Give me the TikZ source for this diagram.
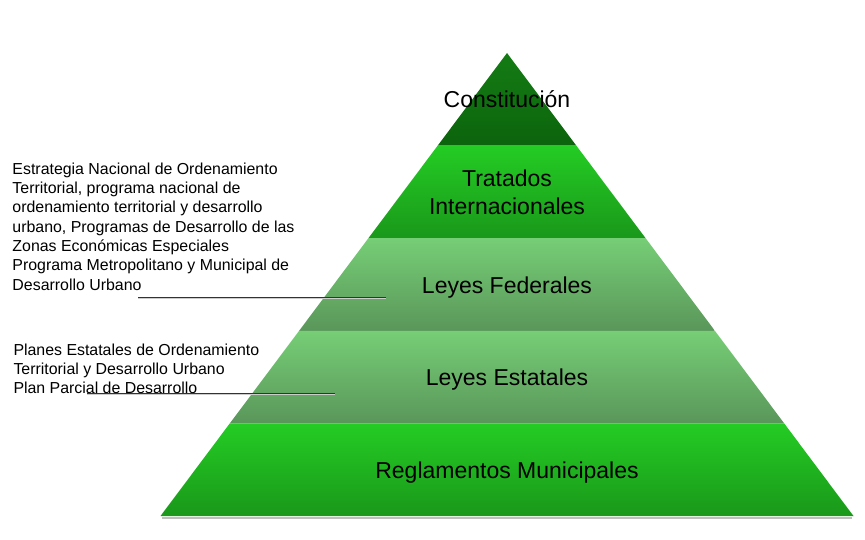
\documentclass[tikz,border=0pt]{standalone}
\usepackage{fontspec}
\setmainfont{Liberation Sans}

\definecolor{cimaA}{RGB}{20,124,20}
\definecolor{cimaB}{RGB}{12,100,12}
\definecolor{verdeA}{RGB}{36,204,36}
\definecolor{verdeB}{RGB}{26,152,26}
\definecolor{chiaroA}{RGB}{118,206,118}
\definecolor{chiaroB}{RGB}{90,150,90}

\begin{document}
\begin{tikzpicture}[x=1pt,y=-1pt,
    etichetta/.style={font=\fontsize{23}{28.5}\selectfont, align=center, inner sep=0pt},
    nota/.style={font=\fontsize{15.9}{19.3}\selectfont, align=left, inner sep=0pt, anchor=north west},
    linea/.style={draw=black!80, line width=0.9pt},
    ombra/.style={draw=black!20, line width=1.2pt}]

        \useasboundingbox (0,0) rectangle (865,540);

        % Livelli
        \draw[ombra, draw=black!25, line width=2pt] (162,517.5) -- (852,517.5); % ombra della base
        \path[top color=cimaA, bottom color=cimaB] (507,53) -- (576.3,145.6) -- (437.7,145.6) -- cycle;
        \path[top color=verdeA, bottom color=verdeB] (437.7,145.6) -- (576.3,145.6) -- (645.6,238.2) -- (368.4,238.2) -- cycle;
        \path[top color=chiaroA, bottom color=chiaroB] (368.4,238.2) -- (645.6,238.2) -- (714.9,330.8) -- (299.1,330.8) -- cycle;
        \path[top color=chiaroA, bottom color=chiaroB] (299.1,330.8) -- (714.9,330.8) -- (784.2,423.4) -- (229.8,423.4) -- cycle;
        \path[top color=verdeA, bottom color=verdeB] (229.8,423.4) -- (784.2,423.4) -- (853.5,516) -- (160.5,516) -- cycle;

        % Etichette
        \node[etichetta, anchor=base] (cost) at (507,107.8) {Constitución};
        \node[etichetta] (trat) at (507,192.5) {Tratados\\Internacionales};
        \node[etichetta, anchor=base] (fed) at (507,293) {Leyes Federales};
        \node[etichetta, anchor=base] (est) at (507,385.6) {Leyes Estatales};
        \node[etichetta, anchor=base] (regl) at (507,478.2) {Reglamentos Municipales};

        % Note
        \node[nota] (nazionale) at (12.3,162.5) {Estrategia Nacional de Ordenamiento\\Territorial, programa nacional de\\ordenamiento territorial y desarrollo\\urbano, Programas de Desarrollo de las\\Zonas Económicas Especiales\\Programa Metropolitano y Municipal de\\Desarrollo Urbano};
        \node[nota] (statale) at (13.3,343.3) {Planes Estatales de Ordenamiento\\Territorial y Desarrollo Urbano\\Plan Parcial de Desarrollo};

        % Linee
        \coordinate (n1) at (138,297);
        \coordinate (f1) at (386,297);
        \coordinate (n2) at (87,393);
        \coordinate (f2) at (335,393);
        \draw[ombra] ([yshift=-1.5pt]n1) -- ([yshift=-1.5pt]f1);
        \draw[ombra] ([yshift=-1.5pt]n2) -- ([yshift=-1.5pt]f2);
        \draw[linea] (n1) -- (f1); % verso Leyes Federales
        \draw[linea] (n2) -- (f2); % verso Leyes Estatales

\end{tikzpicture}
\end{document}
